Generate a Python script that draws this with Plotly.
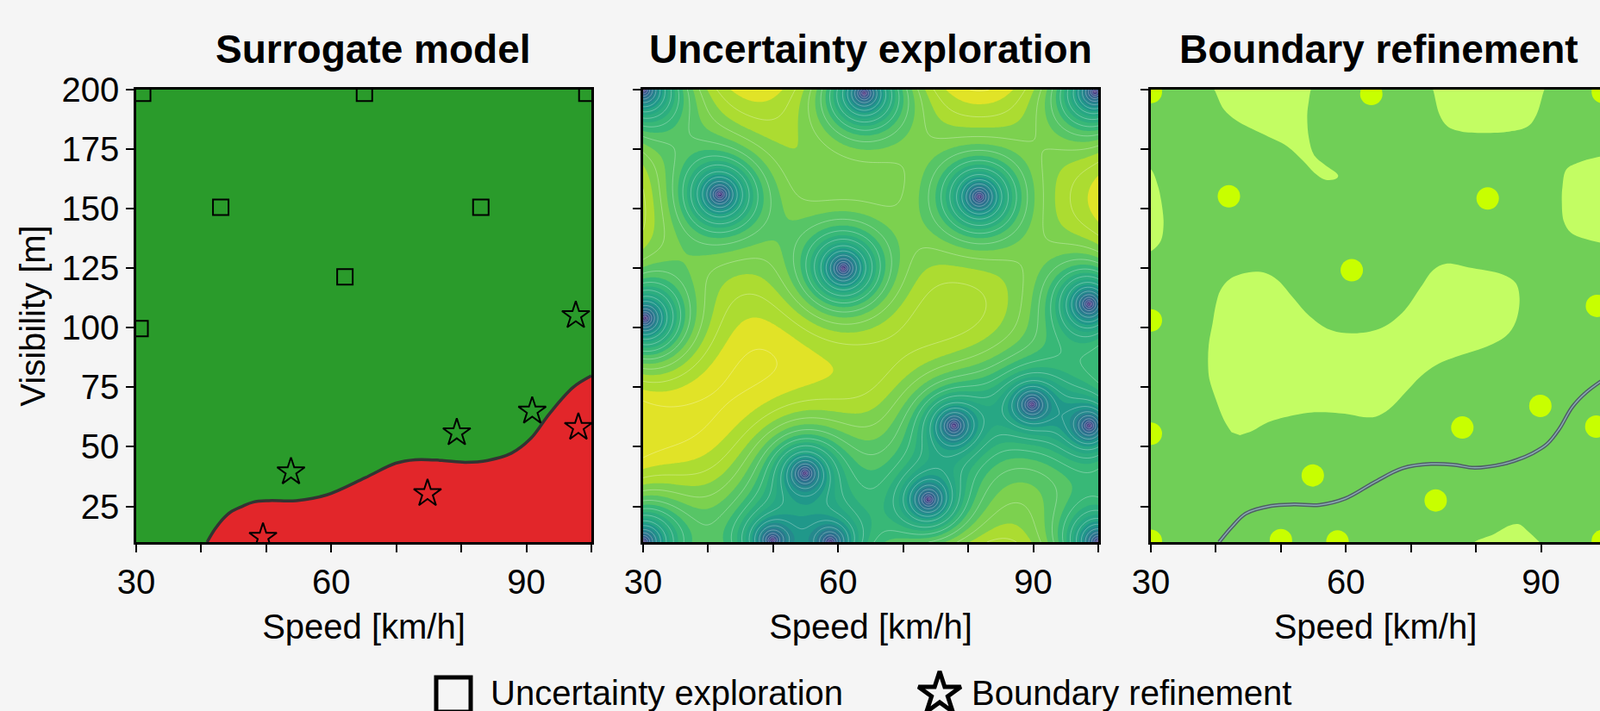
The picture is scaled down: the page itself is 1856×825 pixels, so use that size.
import numpy as np
import plotly.graph_objects as go
from plotly.colors import sample_colorscale

W, H = 1856, 825
BG = '#f5f5f5'
FONT = 'Liberation Sans, Arial, Helvetica, sans-serif'

# ---------------- axes / text ----------------
X_RANGE = [30, 100]
Y_RANGE = [10, 200]
X_TICKS = [30, 40, 50, 60, 70, 80, 90, 100]
X_TICK_TEXT = ['30', '', '', '60', '', '', '90', '']
Y_TICKS = [25, 50, 75, 100, 125, 150, 175, 200]
Y_TICK_TEXT = ['25', '50', '75', '100', '125', '150', '175', '200']
TITLES = ['Surrogate model', 'Uncertainty exploration', 'Boundary refinement']
X_TITLE = 'Speed [km/h]'
Y_TITLE = 'Visibility [m]'
LEGEND_LABELS = ['Uncertainty exploration', 'Boundary refinement']

# ---------------- panel 1: surrogate model ----------------
p1_boundary_speed = [40.9, 42.1, 43.3, 44.5, 46.3, 48.0, 50.4, 54.6, 59.3, 65.2, 69.9,
                     72.9, 77.0, 80.6, 84.1, 87.7, 90.6, 93.6, 97.2, 100.0]
p1_boundary_vis = [10.0, 15.4, 19.6, 22.6, 25.0, 26.8, 27.4, 27.4, 29.8, 37.0, 43.1,
                   44.6, 44.3, 43.5, 44.3, 47.3, 53.3, 64.1, 75.0, 79.8]

explore_speed = [31.0, 65.1, 99.3, 43.0, 83.0, 62.1, 30.6]
explore_vis = [198.5, 198.5, 198.5, 150.6, 150.6, 121.4, 99.7]

refine_speed = [49.5, 53.8, 74.8, 79.3, 90.9, 98.0, 97.6]
refine_vis = [12.0, 39.5, 30.4, 55.9, 65.0, 58.2, 105.1]
refine_class = ['unsafe', 'safe', 'unsafe', 'safe', 'safe', 'unsafe', 'safe']

# ---------------- panel 2: uncertainty (sample locations) ----------------
p2_speed = [30.0, 64.0, 99.5, 41.8, 81.7, 60.8, 30.3, 98.6, 54.9, 77.8, 89.8,
            98.6, 73.9, 49.9, 58.8, 30.0, 100.0]
p2_vis = [200.0, 198.5, 199.0, 156.0, 155.0, 125.0, 104.0, 110.0, 38.9, 58.9, 67.8,
          58.9, 27.9, 10.8, 10.0, 10.0, 10.0]

# ---------------- panel 3: boundary refinement ----------------
p3_dot_speed = [30.0, 63.9, 99.5, 42.0, 81.8, 60.9, 30.0, 98.6, 54.9, 73.8, 77.9,
                89.9, 98.5, 30.0, 50.0, 58.7, 30.0, 99.5]
p3_dot_vis = [199.0, 198.2, 199.0, 155.2, 154.3, 124.2, 103.1, 109.2, 38.0, 27.5, 58.1,
              67.2, 58.5, 55.5, 10.8, 10.3, 10.5, 10.5]

p3_boundary_speed = [40.5, 42.5, 44.6, 48.5, 52.0, 55.9, 59.9, 64.3, 68.7, 73.1, 76.5,
                     79.8, 84.2, 86.4, 88.5, 90.9, 92.8, 94.8, 97.0, 100.0]
p3_boundary_vis = [10.0, 16.5, 22.0, 25.2, 25.8, 25.6, 28.3, 35.0, 41.0, 42.8, 42.5,
                   41.2, 42.8, 44.6, 47.0, 51.1, 57.5, 66.7, 73.0, 79.0]

# light regions of the refinement map (outlines)
blob_a_speed = [39.0, 39.75, 41.2, 43.2, 47.1, 51.0, 53.4, 55.1, 56.8, 58.5, 58.8, 56.8,
                55.1, 54.3, 54.05, 54.3, 54.6, 55.0]
blob_a_vis = [203, 200, 191.8, 187.0, 181.5, 176.1, 170.1, 165.2, 162.2, 162.6, 164.0,
              168.3, 172.5, 179.7, 189.4, 195.4, 200, 203]
blob_b_speed = [73.0, 73.4, 74.4, 75.6, 77.8, 85.1, 88.0, 89.3, 90.5, 91.0]
blob_b_vis = [203, 200, 189.4, 184.6, 182.4, 182.4, 184.6, 189.4, 200, 203]
blob_c_speed = [101, 99.2, 95.9, 93.9, 93.3, 93.2, 93.5, 94.6, 97.3, 99.2, 101]
blob_c_vis = [172.5, 171.9, 169.5, 166.5, 159.2, 153.2, 144.7, 139.9, 136.9, 135.7, 135.3]
blob_d_speed = [29.0, 30.0, 31.0, 31.6, 31.95, 31.5, 30.0, 29.0]
blob_d_vis = [167, 166.5, 160.4, 153.2, 143.5, 136.3, 132.1, 131.5]
blob_e_speed = [42.4, 41.2, 40.0, 39.0, 38.8, 38.9, 39.5, 40.0, 40.7, 42.2, 45.1, 47.6,
                49.5, 52.0, 54.4, 57.8, 61.7, 65.6, 69.0, 71.5, 73.4, 75.4, 78.8, 84.1,
                86.1, 86.7, 86.1, 84.6, 81.2, 77.8, 73.9, 71.5, 69.0, 66.6, 64.6, 62.7,
                59.8, 54.9, 52.0, 48.0, 45.6, 43.7]
blob_e_vis = [56.1, 61.5, 69.9, 78.4, 84.4, 92.9, 102.0, 109.8, 115.8, 120.6, 123.3, 123.0,
              120.0, 112.2, 104.9, 98.9, 97.7, 100.1, 107.3, 117.0, 124.2, 126.9, 125.4, 122.4,
              118.8, 112.2, 102.5, 96.5, 91.6, 88.6, 84.4, 79.6, 72.4, 65.7, 62.7, 62.5,
              63.9, 64.5, 63.3, 60.3, 56.7, 54.9]
blob_f_speed = [79.0, 79.75, 82.7, 85.1, 86.6, 88.0, 89.75, 90.5]
blob_f_vis = [7, 10, 13.3, 16.9, 17.5, 14.5, 10, 7]

# ---------------- colours ----------------
SAFE = '#2a9b2b'
UNSAFE = '#e2262a'
P3_BG = '#70cf57'
P3_LIGHT = '#c3fd63'
P3_DOT = '#c8ff00'
CLASS_COLOR = {'safe': SAFE, 'unsafe': UNSAFE}

# viridis, with its upper (green-yellow) part compressed toward the top of the range
_s = np.linspace(0, 1, 61)
_t = np.where(_s <= 0.6, _s, 0.6 + 0.4 * np.clip((_s - 0.6) / 0.4, 0, 1) ** 1.4)
UNC_COLORSCALE = [[float(s), c] for s, c in zip(_s, sample_colorscale('Viridis', list(_t)))]

# ---------------- layout geometry (pixels) ----------------
PX = [(158, 686), (746, 1274), (1335, 1863)]
PY = (104, 629)

fig = go.Figure()

axis_common = dict(showgrid=False, zeroline=False, showline=True, linecolor='black',
                   linewidth=2.5, ticks='outside', ticklen=9, tickwidth=2, tickcolor='black',
                   tickfont=dict(family=FONT, size=40, color='black'), automargin=False)

for i, (a, b) in enumerate(PX, start=1):
    right = min(b, W)
    xr = [X_RANGE[0], X_RANGE[0] + (X_RANGE[1] - X_RANGE[0]) * (right - a) / (b - a)]
    xa = dict(domain=[a / W, right / W], range=xr, tickmode='array', tickvals=X_TICKS,
              ticktext=X_TICK_TEXT, anchor='y' if i == 1 else f'y{i}', mirror=True,
              title=dict(text=X_TITLE, font=dict(family=FONT, size=40, color='black'), standoff=18),
              **axis_common)
    ya = dict(domain=[1 - PY[1] / H, 1 - PY[0] / H], range=Y_RANGE, tickmode='array',
              tickvals=Y_TICKS, ticktext=Y_TICK_TEXT, anchor='x' if i == 1 else f'x{i}',
              showticklabels=(i == 1), mirror=(i < 3), **axis_common)
    if i == 1:
        ya['title'] = dict(text=Y_TITLE, font=dict(family=FONT, size=40, color='black'), standoff=7)
    fig.layout['xaxis' if i == 1 else f'xaxis{i}'] = xa
    fig.layout['yaxis' if i == 1 else f'yaxis{i}'] = ya

# backgrounds of panel 1 and 3
fig.add_shape(type='rect', xref='x domain', yref='y domain', x0=0, x1=1, y0=0, y1=1,
              fillcolor=SAFE, line_width=0, layer='below')
fig.add_shape(type='rect', xref='x3 domain', yref='y3 domain', x0=0, x1=1, y0=0, y1=1,
              fillcolor=P3_BG, line_width=0, layer='below')

# ---- panel 1 ----
fig.add_trace(go.Scatter(x=p1_boundary_speed, y=p1_boundary_vis, mode='lines',
                         line=dict(color='#333333', width=3.5, shape='spline', smoothing=1.0),
                         fill='tozeroy', fillcolor=UNSAFE, showlegend=False, hoverinfo='skip',
                         xaxis='x', yaxis='y'))
fig.add_trace(go.Scatter(x=explore_speed, y=explore_vis, mode='markers',
                         marker=dict(symbol='square', size=18, color=SAFE,
                                     line=dict(color='black', width=2)),
                         name=LEGEND_LABELS[0], showlegend=False, xaxis='x', yaxis='y'))
fig.add_trace(go.Scatter(x=refine_speed, y=refine_vis, mode='markers',
                         marker=dict(symbol='star', size=24,
                                     color=[CLASS_COLOR[c] for c in refine_class],
                                     line=dict(color='black', width=2)),
                         name=LEGEND_LABELS[1], showlegend=False, xaxis='x', yaxis='y'))

# ---- panel 2: GP posterior std (exponential kernel) from sample locations ----
def kernel(d, ls):
    return np.exp(-d / ls)

LS = 2.0
gx = np.linspace(X_RANGE[0], X_RANGE[1], 211)
gy = np.linspace(Y_RANGE[0], Y_RANGE[1], 231)
GX, GY = np.meshgrid(gx, gy)
nu = lambda s: (np.asarray(s, float) - X_RANGE[0]) / (X_RANGE[1] - X_RANGE[0])
nv = lambda s: (np.asarray(s, float) - Y_RANGE[0]) / (Y_RANGE[1] - Y_RANGE[0])
pu, pv = nu(p2_speed), nv(p2_vis)
gu, gv = nu(GX.ravel()), nv(GY.ravel())
Dpp = np.hypot(pu[:, None] - pu[None, :], pv[:, None] - pv[None, :])
K = kernel(Dpp, LS) + 1e-6 * np.eye(len(pu))
Dgp = np.hypot(gu[:, None] - pu[None, :], gv[:, None] - pv[None, :])
Ks = kernel(Dgp, LS)
sol = np.linalg.solve(K, Ks.T)
var = 1.0 - np.sum(Ks.T * sol, axis=0)
std = np.sqrt(np.clip(var, 0, None)).reshape(GX.shape)
zmax = float(std.max())
step = zmax / 16

fig.add_trace(go.Contour(x=gx, y=gy, z=std, colorscale=UNC_COLORSCALE, zmin=0, zmax=zmax,
                         contours=dict(start=0, end=zmax, size=step, coloring='fill',
                                       showlines=False),
                         line=dict(width=0), showscale=False, hoverinfo='skip',
                         xaxis='x2', yaxis='y2'))
fig.add_trace(go.Contour(x=gx, y=gy, z=std,
                         contours=dict(start=step / 2, end=zmax, size=step, coloring='none'),
                         line=dict(color='rgba(255,255,255,0.3)', width=1),
                         showscale=False, hoverinfo='skip', xaxis='x2', yaxis='y2'))

# ---- panel 3 ----
for bx, by in [(blob_a_speed, blob_a_vis), (blob_b_speed, blob_b_vis),
               (blob_c_speed, blob_c_vis), (blob_d_speed, blob_d_vis),
               (blob_e_speed, blob_e_vis), (blob_f_speed, blob_f_vis)]:
    fig.add_trace(go.Scatter(x=bx, y=by, mode='lines', fill='toself', fillcolor=P3_LIGHT,
                             line=dict(width=0, shape='spline', smoothing=1.0, color=P3_LIGHT),
                             showlegend=False, hoverinfo='skip', xaxis='x3', yaxis='y3'))
fig.add_trace(go.Scatter(x=p3_boundary_speed, y=p3_boundary_vis, mode='lines',
                         line=dict(color='#4f5f66', width=4.5, shape='spline', smoothing=1.0),
                         showlegend=False, hoverinfo='skip', xaxis='x3', yaxis='y3'))
fig.add_trace(go.Scatter(x=p3_boundary_speed, y=p3_boundary_vis, mode='lines',
                         line=dict(color='#8aaab4', width=1.5, shape='spline', smoothing=1.0),
                         showlegend=False, hoverinfo='skip', xaxis='x3', yaxis='y3'))
fig.add_trace(go.Scatter(x=p3_dot_speed, y=p3_dot_vis, mode='markers',
                         marker=dict(size=26, color=P3_DOT, line=dict(width=0)),
                         showlegend=False, hoverinfo='skip', xaxis='x3', yaxis='y3'))

# ---- custom legend on an invisible full-figure axis ----
LEG_SQ = (526, 806)
LEG_STAR = (1090, 805)
fig.layout['xaxis4'] = dict(domain=[0, 1], range=[0, W], visible=False, anchor='y4', fixedrange=True)
fig.layout['yaxis4'] = dict(domain=[0, 1], range=[H, 0], visible=False, anchor='x4', fixedrange=True)
fig.add_trace(go.Scatter(x=[LEG_SQ[0]], y=[LEG_SQ[1]], mode='markers',
                         marker=dict(symbol='square-open', size=40, color='black',
                                     line=dict(width=5, color='black')),
                         showlegend=False, hoverinfo='skip', xaxis='x4', yaxis='y4', cliponaxis=False))
fig.add_trace(go.Scatter(x=[LEG_STAR[0]], y=[LEG_STAR[1]], mode='markers',
                         marker=dict(symbol='star-open', size=37, color='black',
                                     line=dict(width=5, color='black')),
                         showlegend=False, hoverinfo='skip', xaxis='x4', yaxis='y4', cliponaxis=False))

annotations = []
for (a, b), t in zip(PX, TITLES):
    cx = (a + b) / 2 + (11 if a == PX[0][0] else 0)
    annotations.append(dict(text=f'<b>{t}</b>', x=cx / W, y=1 - 57 / H, xref='paper', yref='paper',
                            xanchor='center', yanchor='middle', showarrow=False,
                            font=dict(family=FONT, size=46, color='black')))
annotations.append(dict(text=LEGEND_LABELS[0], x=567 / W, y=1 - 804 / H, xref='paper', yref='paper',
                        xanchor='left', yanchor='middle', showarrow=False,
                        font=dict(family=FONT, size=40, color='black')))
annotations.append(dict(text=LEGEND_LABELS[1], x=1125 / W, y=1 - 804 / H, xref='paper', yref='paper',
                        xanchor='left', yanchor='middle', showarrow=False,
                        font=dict(family=FONT, size=40, color='black')))

fig.update_layout(width=W, height=H, autosize=False, margin=dict(l=0, r=0, t=0, b=0, pad=0),
                  paper_bgcolor=BG, plot_bgcolor='rgba(0,0,0,0)', showlegend=False,
                  annotations=annotations, font=dict(family=FONT, color='black'))

fig.write_html('out.html', config={'displayModeBar': False},
               post_script="document.body.style.margin='0px';document.body.style.overflow='hidden';")
